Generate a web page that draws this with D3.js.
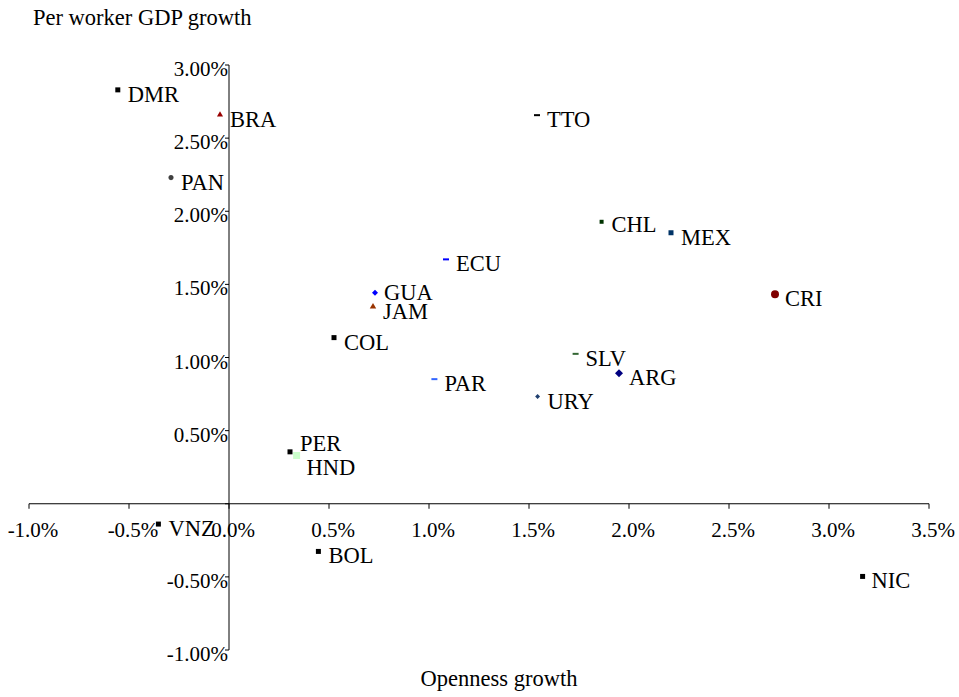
<!DOCTYPE html>
<html lang="en">
<head>
    <meta charset="UTF-8">
    <title>Openness growth vs per worker GDP growth</title>
    <script src="https://d3js.org/d3.v7.min.js"></script>
    <style>
        body { margin: 0; background: #fff; }
        text { font-family: "Times New Roman", "Liberation Serif", "DejaVu Serif", serif; font-size: 22.5px; fill: #000; }
        text.tick { font-size: 21px; }
    </style>
</head>
<body>
    <script>
        // Datos (en %)
        const countries = ['DMR', 'BRA', 'PAN', 'VNZ', 'BOL', 'GUA', 'JAM', 'COL', 'ECU', 'PAR',
                           'CHL', 'MEX', 'CRI', 'SLV', 'ARG', 'URY', 'PER', 'HND', 'TTO', 'NIC'];
        const openness = [-0.556, -0.045, -0.29, -0.353, 0.447, 0.73, 0.72, 0.525, 1.085, 1.027,
                          1.863, 2.21, 2.73, 1.733, 1.95, 1.543, 0.305, 0.338, 1.54, 3.168];
        const gdpGrowth = [2.83, 2.66, 2.23, -0.139, -0.326, 1.443, 1.348, 1.136, 1.671, 0.852,
                           1.928, 1.853, 1.432, 1.025, 0.893, 0.733, 0.355, 0.33, 2.657, -0.497];
        const xTicks = [-1.0, -0.5, 0, 0.5, 1.0, 1.5, 2.0, 2.5, 3.0, 3.5];
        const yTicks = [-1.0, -0.5, 0.5, 1.0, 1.5, 2.0, 2.5, 3.0];

        // estilo de los marcadores
        const markers = {
            DMR: { shape: 'square', color: '#000000', size: 25 },
            BRA: { shape: 'triangle', color: '#990000', size: 16 },
            PAN: { shape: 'circle', color: '#404040', size: 20 },
            VNZ: { shape: 'square', color: '#000000', size: 25 },
            BOL: { shape: 'square', color: '#000000', size: 25 },
            GUA: { shape: 'diamond', color: '#0000ff', size: 18 },
            JAM: { shape: 'triangle', color: '#993300', size: 18 },
            COL: { shape: 'square', color: '#000000', size: 25 },
            ECU: { shape: 'dash', color: '#0000ff' },
            PAR: { shape: 'dash', color: '#3366ff' },
            CHL: { shape: 'square', color: '#003300', size: 16 },
            MEX: { shape: 'square', color: '#003366', size: 25 },
            CRI: { shape: 'circle', color: '#800000', size: 50 },
            SLV: { shape: 'dash', color: '#336633' },
            ARG: { shape: 'diamond', color: '#000080', size: 32 },
            URY: { shape: 'diamond', color: '#1f3f6f', size: 12 },
            PER: { shape: 'square', color: '#000000', size: 25 },
            HND: { shape: 'square', color: '#ccffcc', size: 49 },
            TTO: { shape: 'dash', color: '#000000' },
            NIC: { shape: 'square', color: '#000000', size: 25 }
        };

        // desplazamiento de etiquetas que no van en la posición normal
        const labelShift = { GUA: [9, 0], PER: [10, -8], HND: [10, 12], CHL: [10, 3], NIC: [9, 4] };

        const width = 959, height = 697;
        const svg = d3.select('body').append('svg').attr('width', width).attr('height', height);

        const x = d3.scaleLinear().domain([-1.0, 3.5]).range([29, 929]);
        const y = d3.scaleLinear().domain([-1.0, 3.0]).range([650, 65]);

        // ejes
        svg.append('line')
            .attr('x1', x(-1.0)).attr('x2', x(3.5))
            .attr('y1', y(0)).attr('y2', y(0))
            .attr('stroke', '#000').attr('stroke-width', 1);
        svg.append('line')
            .attr('x1', x(0)).attr('x2', x(0))
            .attr('y1', y(3.0)).attr('y2', y(-1.0))
            .attr('stroke', '#000').attr('stroke-width', 1);

        svg.selectAll('.xtick').data(xTicks).enter().append('line')
            .attr('x1', d => x(d)).attr('x2', d => x(d))
            .attr('y1', y(0)).attr('y2', y(0) + 5)
            .attr('stroke', '#000');
        svg.selectAll('.xlab').data(xTicks).enter().append('text')
            .attr('class', 'tick')
            .attr('x', d => x(d) + 4)
            .attr('y', y(0) + 33)
            .attr('text-anchor', 'middle')
            .text(d => d.toFixed(1) + '%');

        svg.selectAll('.ytick').data(yTicks.concat([0])).enter().append('line')
            .attr('x1', x(0) - 4).attr('x2', x(0))
            .attr('y1', d => y(d)).attr('y2', d => y(d))
            .attr('stroke', '#000');
        svg.selectAll('.ylab').data(yTicks).enter().append('text')
            .attr('class', 'tick')
            .attr('x', x(0) - 1)
            .attr('y', d => y(d) + 11)
            .attr('text-anchor', 'end')
            .text(d => d.toFixed(2) + '%');

        // títulos
        svg.append('text').attr('x', 33).attr('y', 25).text('Per worker GDP growth');
        svg.append('text').attr('x', 499).attr('y', 686).attr('text-anchor', 'middle').text('Openness growth');

        // puntos
        const points = countries.map((c, i) => ({ name: c, ox: openness[i], gy: gdpGrowth[i] }));
        const shapes = {
            square: d3.symbolSquare,
            triangle: d3.symbolTriangle,
            circle: d3.symbolCircle
        };

        points.forEach(p => {
            const m = markers[p.name];
            const cx = x(p.ox), cy = y(p.gy);
            if (m.shape === 'dash') {
                svg.append('rect')
                    .attr('x', cx - 3).attr('y', cy - 1)
                    .attr('width', 6).attr('height', 2)
                    .attr('fill', m.color);
            } else if (m.shape === 'diamond') {
                svg.append('path')
                    .attr('d', d3.symbol().type(d3.symbolSquare).size(m.size)())
                    .attr('transform', `translate(${cx},${cy}) rotate(45)`)
                    .attr('fill', m.color);
            } else {
                svg.append('path')
                    .attr('d', d3.symbol().type(shapes[m.shape]).size(m.size)())
                    .attr('transform', `translate(${cx},${cy})`)
                    .attr('fill', m.color);
            }
            const s = labelShift[p.name] || [10, 4.5];
            svg.append('text')
                .attr('x', cx + s[0])
                .attr('y', cy + s[1] + 7.5)
                .text(p.name);
        });
    </script>
</body>
</html>
